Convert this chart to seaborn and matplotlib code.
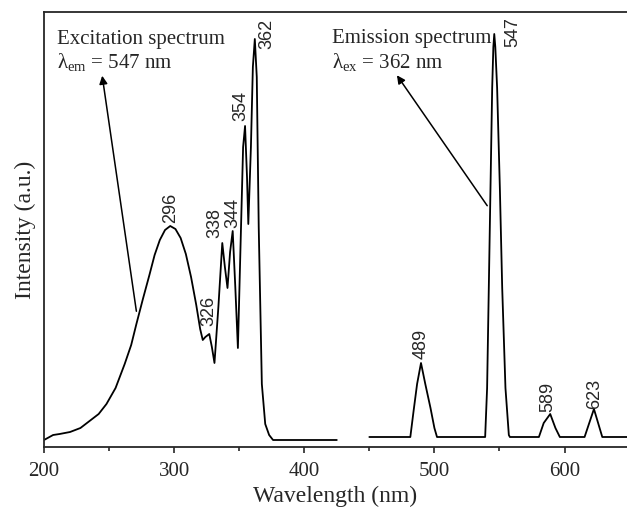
import pandas as pd
import matplotlib.pyplot as plt
import seaborn as sns

# excitation spectrum (lambda_em = 547 nm)
exc_wl = [200, 207, 212, 220, 228, 235, 242, 248, 255, 262, 267, 271, 276, 281, 285, 289, 293, 297,
          301, 305, 309, 313, 317, 320, 322, 324, 327, 329, 331, 334, 337, 339, 341, 343, 345,
          347, 349, 351, 353, 354.5, 356, 357, 359, 360.5, 362, 363.5, 365, 367.4, 370, 373, 376, 425]
exc_int = [7, 12, 13, 15, 19, 26, 33, 43, 59, 83, 102, 123, 148, 172, 192, 207, 217, 221,
           218, 209, 193, 170, 142, 118, 107, 110, 113, 100, 84, 140, 204, 180, 159, 195, 216,
           160, 99, 200, 300, 321, 270, 223, 300, 380, 408, 370, 220, 63, 23, 12, 7, 7]

# emission spectrum (lambda_ex = 362 nm)
em_wl = [450, 481.5, 484, 486.7, 489.7, 493, 497, 500, 502, 539, 540.5, 541.8, 543.1, 544.4,
         545.3, 546, 546.8, 548.2, 550.3, 552.1, 554.6, 557.2, 558, 580.3, 584, 589, 593,
         596.4, 615.4, 622.6, 629, 650]
em_int = [10, 10, 36, 63, 84, 63, 39, 19, 10, 10, 59, 159, 259, 359,
          400, 413, 400, 359, 259, 159, 59, 12, 10, 10, 24, 33, 19,
          10, 10, 38, 10, 10]

# peak labels: text, x, y
peak_txt = ['296', '326', '338', '344', '354', '362', '489', '547', '589', '623']
peak_x = [297, 327, 331.5, 345.4, 351.5, 371.5, 490, 560, 587, 623]
peak_y = [239, 136, 224, 234, 341, 413, 103, 415, 50, 53]

exc = pd.DataFrame({'Wavelength': exc_wl, 'Intensity': exc_int})
em = pd.DataFrame({'Wavelength': em_wl, 'Intensity': em_int})

sns.set_style('ticks')
plt.rcParams['font.family'] = ['Liberation Serif', 'DejaVu Serif']
plt.rcParams['mathtext.default'] = 'regular'

fig = plt.figure(figsize=(6.27, 5.07), dpi=100)
ax = fig.add_axes([44 / 627, 1 - 447 / 507, 1 - 44 / 627, (447 - 12) / 507])

sns.lineplot(data=exc, x='Wavelength', y='Intensity', ax=ax, color='black', lw=1.3, sort=False)
sns.lineplot(data=em, x='Wavelength', y='Intensity', ax=ax, color='black', lw=1.3, sort=False)

ax.set_xlim(200, 648)
ax.set_ylim(0, 435)
ax.set_xticks([200, 300, 400, 500, 600])
ax.set_xticks([250, 350, 450, 550], minor=True)
ax.set_yticks([])
ax.tick_params(axis='x', which='major', length=4.5, width=1.2, labelsize=15, pad=6, direction='out')
ax.tick_params(axis='x', which='minor', length=3, width=1.2, direction='out')
for s in ['left', 'bottom', 'top']:
    ax.spines[s].set_linewidth(1.3)
ax.spines['right'].set_visible(False)

ax.set_xlabel('Wavelength (nm)', fontsize=17, labelpad=4)
ax.set_ylabel('Intensity (a.u.)', fontsize=17, labelpad=6)

ax.text(210, 403, 'Excitation spectrum', fontsize=15, va='baseline')
ax.text(210, 379, 'λ$_{em}$ = 547 nm', fontsize=15, va='baseline')
ax.text(421.5, 404, 'Emission spectrum', fontsize=15, va='baseline')
ax.text(421.5, 379, 'λ$_{ex}$ = 362 nm', fontsize=15, va='baseline')

ax.annotate('', xy=(244.4, 374), xytext=(271.3, 133),
            arrowprops=dict(arrowstyle='-|>', color='black', lw=1.1, mutation_scale=12))
ax.annotate('', xy=(470, 374), xytext=(541.8, 239),
            arrowprops=dict(arrowstyle='-|>', color='black', lw=1.1, mutation_scale=12))

for t, x, y in zip(peak_txt, peak_x, peak_y):
    ax.text(x, y, t, rotation=90, ha='center', va='center', fontsize=13,
            family=['Liberation Sans', 'DejaVu Sans'])

plt.savefig('out.png', dpi=100)
